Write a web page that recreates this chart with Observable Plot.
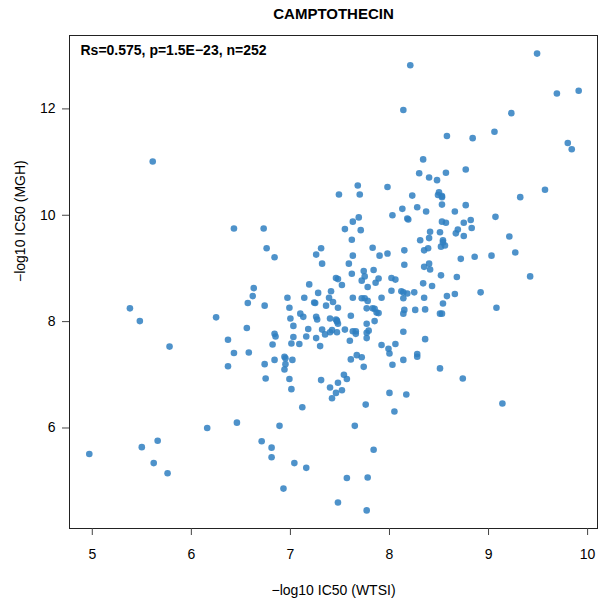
<!DOCTYPE html>
<html>
<head>
<meta charset="utf-8">
<script src="https://cdn.jsdelivr.net/npm/d3@7"></script>
<script src="https://cdn.jsdelivr.net/npm/@observablehq/plot@0.6"></script>
<style>
  html, body { margin: 0; padding: 0; background: white; }
</style>
</head>
<body>
<div id="chart"></div>
<script>
const title = "CAMPTOTHECIN";
const statsText = "Rs=0.575, p=1.5E\u221223, n=252";
const xLabel = "\u2212log10 IC50 (WTSI)";
const yLabel = "\u2212log10 IC50 (MGH)";
const xTicks = [5, 6, 7, 8, 9, 10];
const yTicks = [6, 8, 10, 12];

// -log10 IC50 (WTSI)
const wtsi = [
  5.61, 5.38, 5.48, 5.78, 6.16, 4.97, 5.50, 5.66, 5.62, 5.76,
  8.14, 7.68, 7.49, 7.70, 7.98,
  8.21, 9.49, 9.69, 9.91, 9.23, 8.58, 8.84, 9.06, 9.80, 9.84, 8.34, 8.30, 8.40, 8.48, 8.57, 8.77, 9.57, 9.32, 8.23, 8.50, 8.49, 8.53,
  6.43, 6.73, 6.76, 6.84, 6.63, 6.62, 6.57, 6.74, 6.25, 6.97, 6.99, 7.14, 7.00, 7.10, 7.13, 7.03, 6.56, 6.84,
  6.37, 6.85, 7.03, 7.01, 7.09, 7.16, 6.82, 6.43, 6.58, 6.37, 6.74, 6.84, 6.94, 6.95, 6.95, 6.94, 7.02, 6.75, 6.99, 7.01, 7.12, 6.46, 6.89, 6.71, 6.81, 6.81, 7.04, 7.16, 6.93,
  8.13, 8.03, 7.63, 7.69, 7.55, 7.71, 7.62, 7.31, 7.26, 7.32, 7.63, 7.59, 7.83, 7.90, 7.98, 7.62, 7.74, 7.75, 7.84, 7.46, 7.48, 7.52, 7.72, 7.86, 7.89, 7.78, 8.02, 8.06, 8.02, 7.19, 7.28, 7.41, 7.39, 7.24, 7.25, 7.43, 7.36, 7.63, 7.72, 7.75, 7.78, 7.92, 7.48, 7.77, 7.83, 7.85, 7.87, 7.89, 7.26, 7.27, 7.46, 7.47, 7.48, 7.40, 7.61, 7.85, 7.77, 7.18, 7.32, 7.42, 7.40, 7.55, 7.63, 7.77,
  7.47, 7.66, 7.79, 7.26, 7.35, 7.30, 7.60, 7.77, 7.92, 7.99, 8.00, 8.06, 8.14, 7.61, 7.67, 7.72, 7.74, 8.03, 7.31, 7.54, 7.57, 7.48, 7.40, 7.46, 7.52, 7.42, 8.00, 7.76, 8.05, 7.65, 7.84, 7.57, 7.78, 7.48, 7.77,
  8.28, 8.37, 8.53, 8.66, 8.77, 9.07, 8.18, 8.19, 8.53, 8.57, 8.75, 8.82, 8.83, 8.41, 8.51, 8.69, 8.67, 8.75, 8.31, 8.40, 8.54, 8.54, 8.52, 8.56, 8.39, 8.35, 8.15, 8.86, 9.03, 8.72, 8.15, 8.35, 8.40, 8.41, 8.52, 8.68, 8.34, 8.43, 8.12, 8.14, 8.18, 8.25, 8.14, 8.35, 8.58, 8.66, 8.92, 8.54, 9.08, 8.15, 8.14, 8.26, 8.36, 8.51, 8.53,
  8.36, 8.28, 8.28, 8.51, 8.74, 8.17, 9.14,
  9.21, 9.27, 9.42,
  8.14, 7.47, 8.53, 7.66
];

// -log10 IC50 (MGH)
const mgh = [
  11.01, 8.25, 8.01, 7.53, 6.00, 5.51, 5.64, 5.76, 5.34, 5.15,
  11.98, 10.56, 10.39, 10.39, 10.53,
  12.82, 13.04, 12.29, 12.34, 11.92, 11.49, 11.45, 11.57, 11.36, 11.24, 11.05, 10.79, 10.71, 10.66, 10.80, 10.86, 10.48, 10.34, 10.37, 10.43, 10.38, 10.34,
  9.75, 9.75, 9.38, 9.21, 8.63, 8.48, 8.35, 8.30, 8.08, 8.45, 8.26, 8.45, 8.06, 8.15, 8.09, 7.92, 7.88, 7.77,
  7.66, 7.72, 7.71, 7.59, 7.58, 7.72, 7.57, 7.41, 7.42, 7.16, 7.20, 7.28, 7.34, 7.31, 7.20, 7.10, 7.28, 6.93, 6.92, 6.73, 6.39, 6.10, 6.04, 5.75, 5.63, 5.45, 5.34, 5.25, 4.86,
  10.12, 10.00, 9.88, 9.96, 9.74, 9.72, 9.54, 9.38, 9.26, 9.09, 9.24, 9.09, 9.39, 9.24, 9.28, 8.90, 8.95, 8.85, 8.97, 8.82, 8.80, 8.69, 8.77, 8.73, 8.81, 8.65, 8.82, 8.79, 8.58, 8.70, 8.54, 8.57, 8.45, 8.36, 8.35, 8.37, 8.30, 8.45, 8.44, 8.44, 8.39, 8.45, 8.26, 8.25, 8.25, 8.24, 8.17, 8.16, 8.09, 8.04, 8.04, 8.00, 7.96, 8.06, 8.11, 8.01, 7.96, 7.86, 7.85, 7.84, 7.80, 7.85, 7.82, 7.79,
  7.80, 7.77, 7.83, 7.69, 7.76, 7.54, 7.64, 7.69, 7.56, 7.49, 7.40, 7.58, 7.28, 7.29, 7.37, 7.33, 7.15, 7.19, 6.90, 7.00, 6.92, 6.85, 6.76, 6.66, 6.71, 6.56, 6.66, 6.44, 6.31, 6.04, 5.59, 5.06, 5.07, 4.60, 4.45,
  10.15, 10.07, 10.20, 10.07, 10.19, 9.97, 9.94, 9.92, 9.88, 9.86, 9.86, 9.91, 9.76, 9.69, 9.68, 9.73, 9.66, 9.61, 9.53, 9.57, 9.53, 9.49, 9.41, 9.43, 9.38, 9.34, 9.34, 9.22, 9.24, 9.18, 9.07, 9.03, 9.09, 8.98, 8.87, 8.84, 8.72, 8.67, 8.57, 8.55, 8.53, 8.55, 8.44, 8.45, 8.48, 8.52, 8.55, 8.34, 8.26, 8.22, 8.15, 8.22, 8.23, 8.15, 8.15,
  7.67, 7.39, 7.34, 7.12, 6.93, 6.63, 6.46,
  9.60, 9.30, 8.85,
  7.81, 8.02, 10.36, 7.82
];

const points = wtsi.map((x, i) => ({x, y: mgh[i]}));

const font = "'Liberation Sans', Arial, Helvetica, sans-serif";

const chart = Plot.plot({
  width: 600,
  height: 601,
  marginTop: 35,
  marginBottom: 73,
  marginLeft: 69,
  marginRight: 3,
  style: {fontFamily: font, fontSize: "14px", background: "white", color: "#000"},
  x: {domain: [4.77, 10.1], label: null},
  y: {domain: [4.11, 13.38], label: null},
  marks: [
    Plot.dot(points, {x: "x", y: "y", r: 3.3, fill: "#2f7fc1", fillOpacity: 0.85, stroke: "none"}),
    Plot.frame({stroke: "#222", strokeWidth: 1}),
    Plot.axisX(xTicks, {tickSize: 7, tickPadding: 14, fontSize: 14, stroke: "#444", tickFormat: "d", label: null}),
    Plot.axisY(yTicks, {tickSize: 7, tickPadding: 7, fontSize: 14, stroke: "#444", tickFormat: "d", label: null}),
    Plot.text([title], {frameAnchor: "top", dy: -27, text: d => d, fontWeight: "bold", fontSize: 15}),
    Plot.text([statsText], {frameAnchor: "top-left", dx: 11, dy: 10, text: d => d, fontWeight: "bold", fontSize: 14, textAnchor: "start"}),
    Plot.text([xLabel], {frameAnchor: "bottom", dy: 66, text: d => d, fontSize: 14}),
    Plot.text([yLabel], {frameAnchor: "left", dx: -49, rotate: -90, text: d => d, fontSize: 14})
  ]
});

document.getElementById("chart").appendChild(chart);
</script>
</body>
</html>
